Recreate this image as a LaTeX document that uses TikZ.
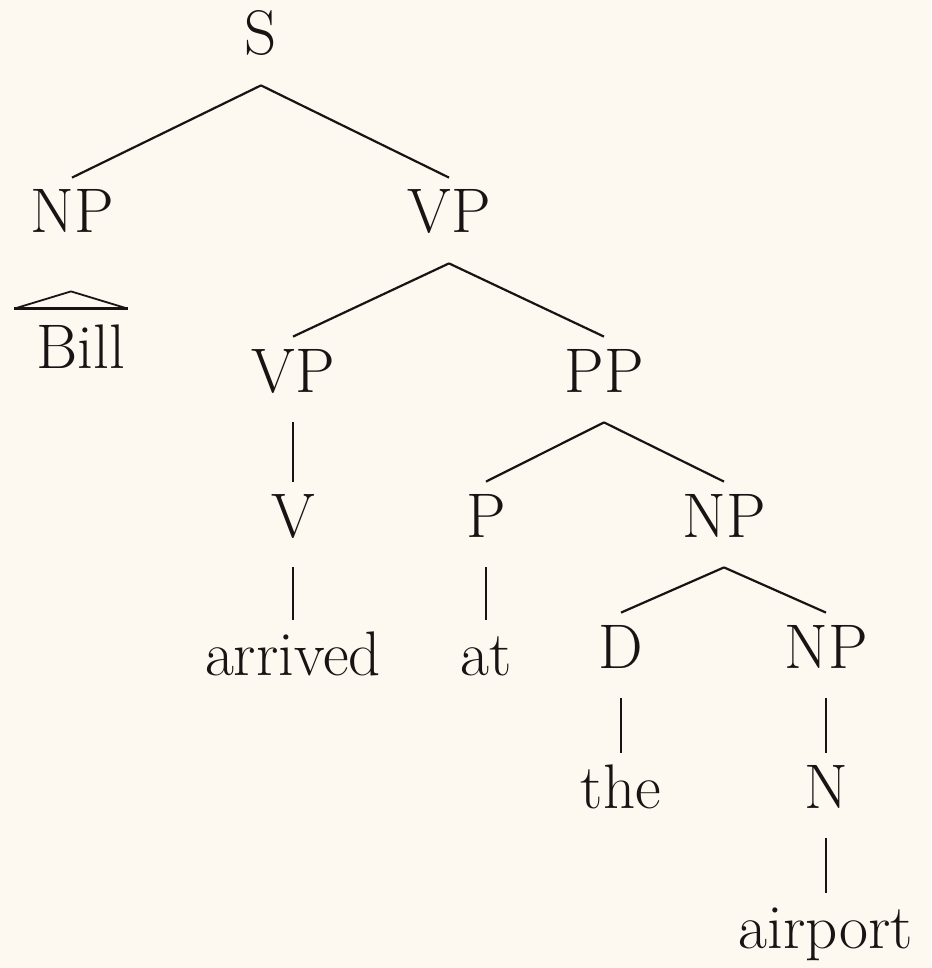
\documentclass[tikz,border=0pt]{standalone}
\usepackage{tikz}
\usetikzlibrary{positioning}
\definecolor{paper}{RGB}{253,248,240}
\definecolor{ink}{RGB}{25,20,20}

\begin{document}
\begin{tikzpicture}[x=0.5pt,y=-0.5pt]

	\tikzstyle{cat}=[anchor=base, inner xsep=2pt, inner ysep=5.5pt, text height=22pt, text depth=9.5pt, text=ink, font=\fontsize{31.5}{38}\selectfont]
	\tikzstyle{branch}=[line width=1.1pt, ink]
	\tikzstyle{roof}=[line width=0.9pt, ink, line join=miter]

	\useasboundingbox[fill=paper] (0,0) rectangle (931,968);

	% nodes of the tree
	\node[cat] 	(s) at (261,55) 	{S};
	\node[cat] 	(np1) at (72,233) 	{NP};
	\node[cat] 	(vp1) at (449,233) 	{VP};
	\draw[branch] (s.south) -- (np1.north) ;
	\draw[branch] (s.south) -- (vp1.north) ;
	\node[cat] 	(bill) at (81,368) 	{Bill};
	\path (np1.south) ++(-1,28) coordinate (roof top) ;
	\draw[roof] (roof top) -- ([xshift=-9pt,yshift=2pt]bill.north west) ;
	\draw[roof] (roof top) -- ([xshift=-1pt,yshift=2pt]bill.north east) ;
	\draw[line width=1.5pt, ink] ([xshift=-9pt,yshift=2pt]bill.north west) -- ([xshift=-1pt,yshift=2pt]bill.north east) ;
	\node[cat] 	(vp2) at (293,392) 	{VP};
	\node[cat] 	(pp) at (604,392) 	{PP};
	\draw[branch] (vp1.south) -- (vp2.north) ;
	\draw[branch] (vp1.south) -- (pp.north) ;
	\node[cat] 	(v) at (293,537) 	{V};
	\node[cat] 	(p) at (486,537) 	{P};
	\node[cat] 	(np2) at (724,537) 	{NP};
	\draw[branch] (vp2.south) -- (v.north) ;
	\draw[branch] (pp.south) -- (p.north) ;
	\draw[branch] (pp.south) -- (np2.north) ;
	\node[cat] 	(arrived) at (293,675) 	{arrived};
	\node[cat] 	(at) at (486,675) 	{at};
	\draw[branch] (v.south) -- (arrived.north) ;
	\draw[branch] (p.south) -- (at.north) ;
	\node[cat] 	(d) at (621,668) 	{D};
	\node[cat] 	(np3) at (826,668) 	{NP};
	\draw[branch] (np2.south) -- (d.north) ;
	\draw[branch] (np2.south) -- (np3.north) ;
	\node[cat] 	(the) at (621,808) 	{the};
	\node[cat] 	(n) at (826,808) 	{N};
	\draw[branch] (d.south) -- (the.north) ;
	\draw[branch] (np3.south) -- (n.north) ;
	\node[cat] 	(airport) at (826,948) 	{airport};
	\draw[branch] (n.south) -- (airport.north) ;

\end{tikzpicture}
\end{document}
